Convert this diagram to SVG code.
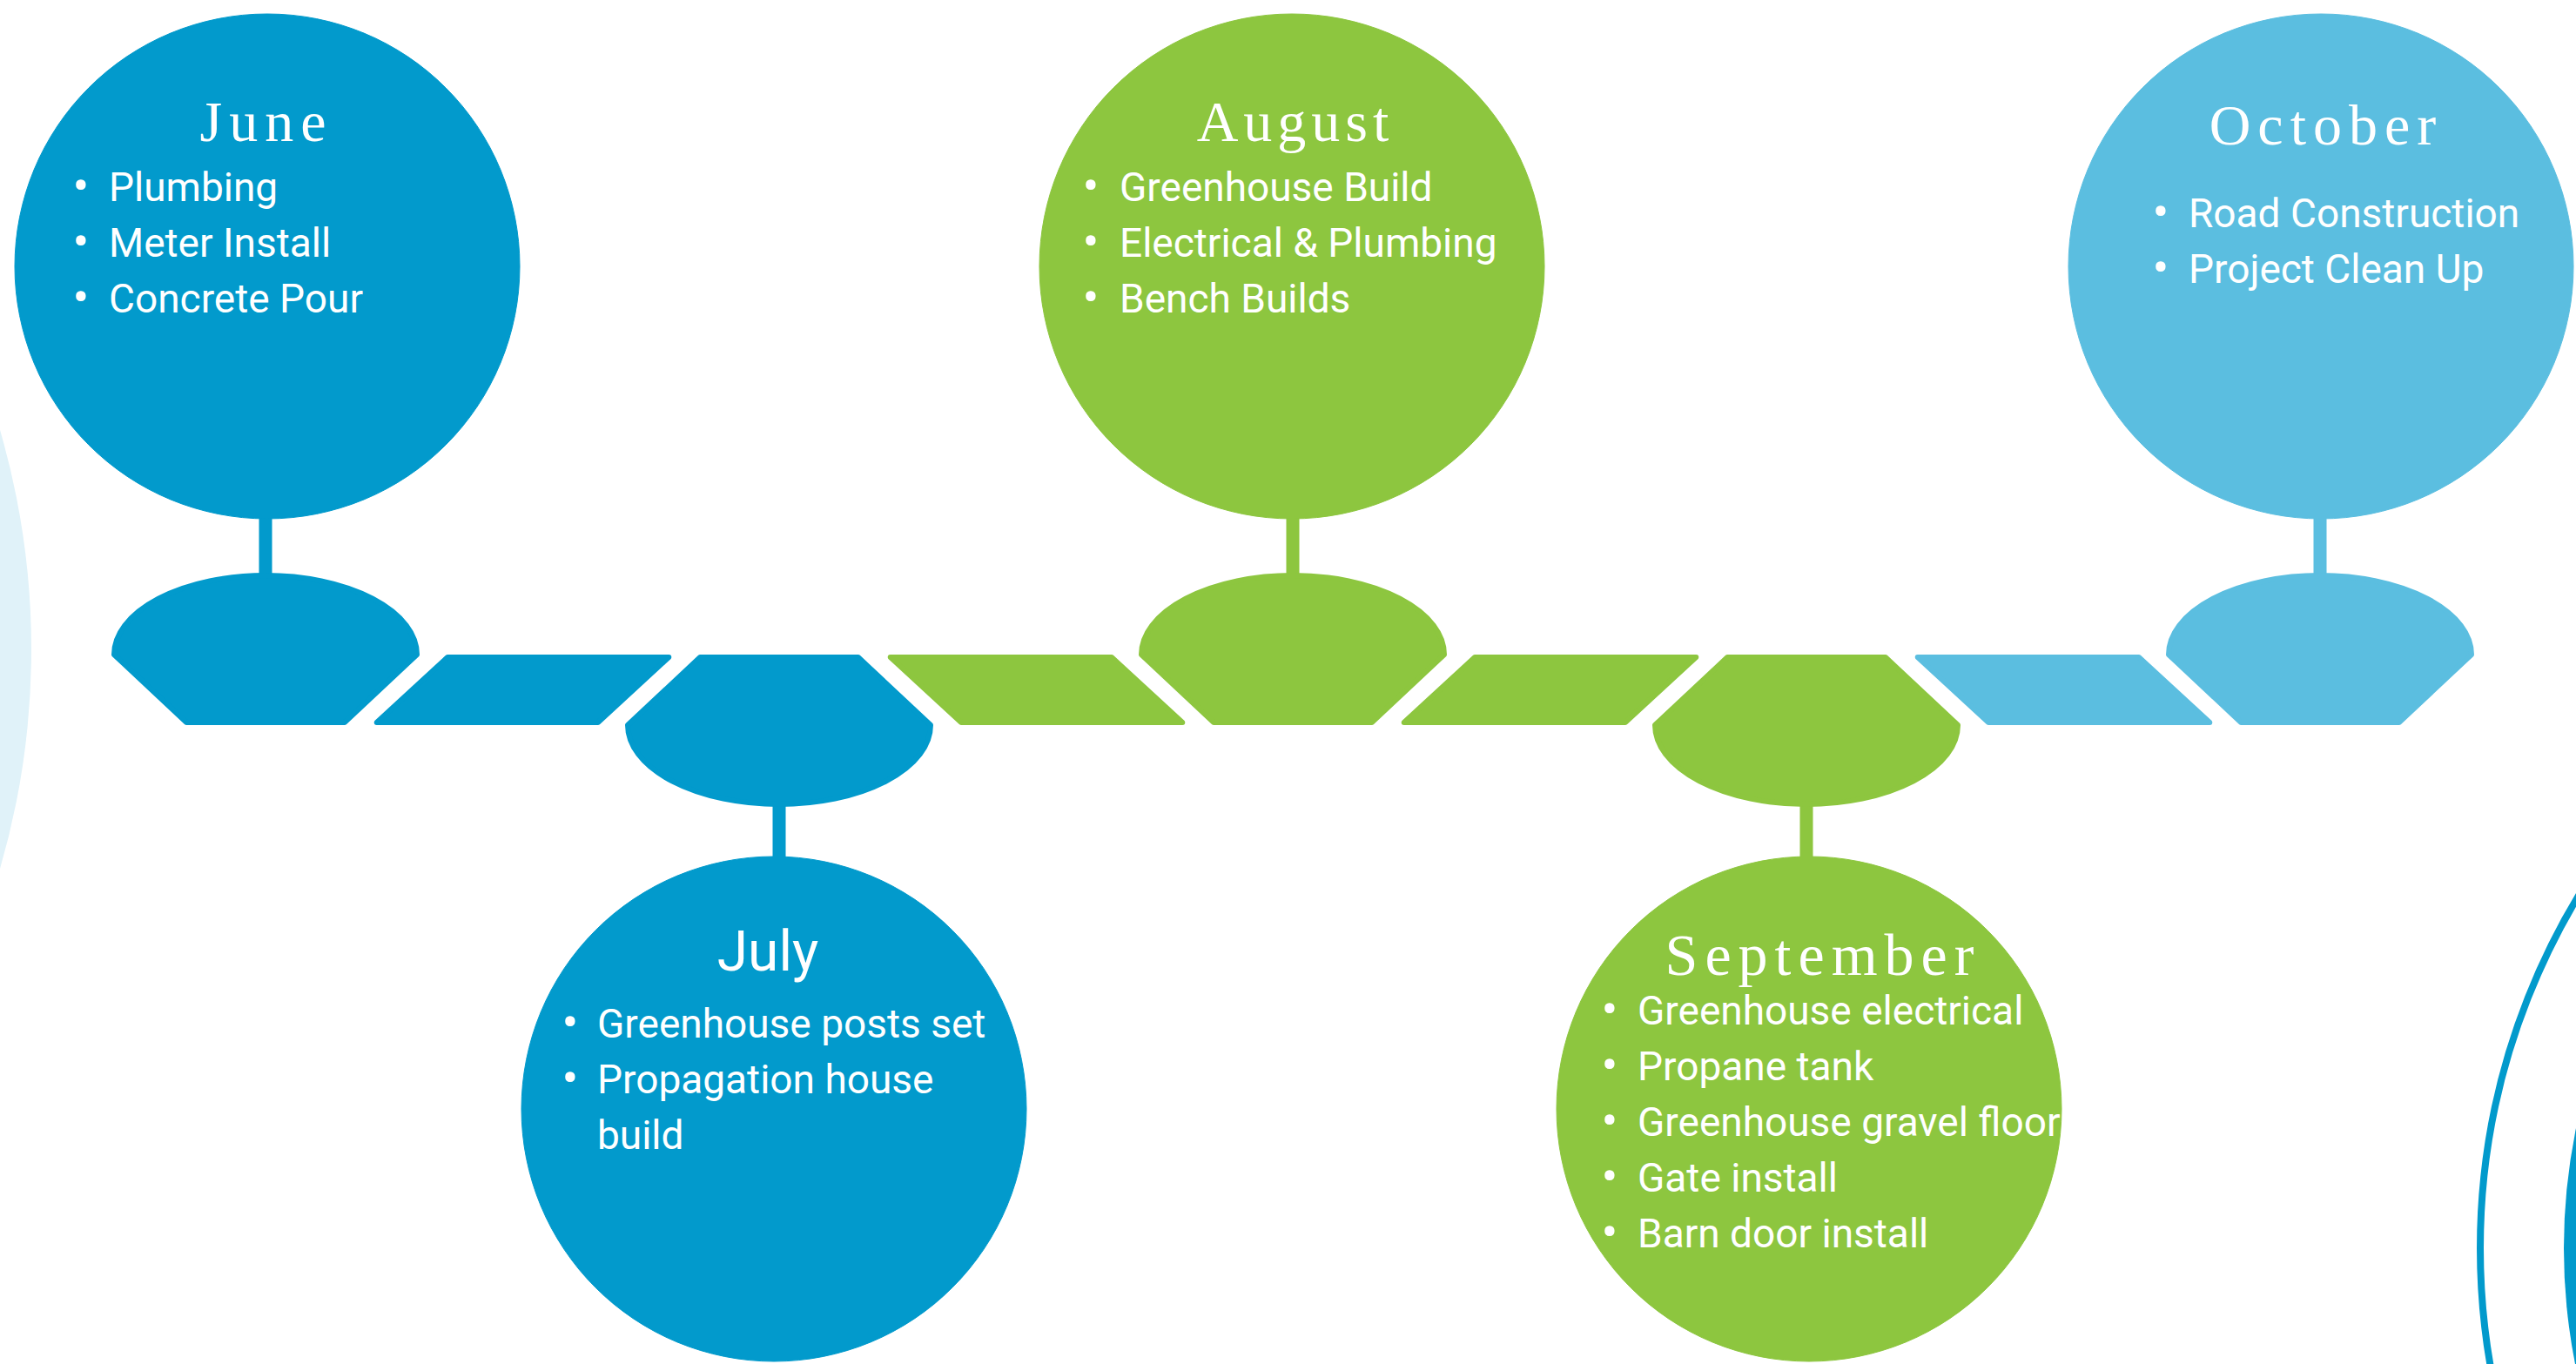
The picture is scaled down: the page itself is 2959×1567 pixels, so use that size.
<svg xmlns="http://www.w3.org/2000/svg" xmlns:xlink="http://www.w3.org/1999/xlink" width="2959" height="1567" viewBox="0 0 2959 1567">
  <style>
    .blue { fill: #029ACC; stroke: #029ACC; }
    .green { fill: #8DC63F; stroke: #8DC63F; }
    .light { fill: #5BBEE0; stroke: #5BBEE0; }
    .shape { stroke-width: 6; stroke-linejoin: round; }
    .title { font-family: "Liberation Serif", "Times New Roman", serif; font-size: 66px; fill: #FFFFFF; text-anchor: middle; letter-spacing: 8px; }
    .title-sans { font-family: Roboto, "Liberation Sans", sans-serif; font-size: 64px; fill: #FFFFFF; text-anchor: middle; }
    .item { font-family: Roboto, "Liberation Sans", sans-serif; font-size: 46px; fill: #FFFFFF; }
    .dot { font-family: Roboto, "Liberation Sans", sans-serif; font-size: 56px; fill: #FFFFFF; text-anchor: middle; }
  </style>
  <defs>
    <path id="bell" d="M -174 -40.5 L -90.8 37.5 L 90.8 37.5 L 174 -40.5 A 174 91 0 0 0 -174 -40.5 Z"/>
    <path id="para" d="M 209.1 -37.5 L 463.3 -37.5 L 381.9 37.5 L 127.7 37.5 Z"/>
  </defs>
  <rect x="0" y="0" width="2959" height="1567" fill="#FFFFFF"/>

  <g id="background">
    <circle cx="-864" cy="746" r="900" fill="#E0F2F9"/>
    <circle cx="3631" cy="1434" r="782" fill="none" stroke="#029ACC" stroke-width="8"/>
    <circle cx="3631" cy="1434" r="686" fill="#029ACC"/>
  </g>

  <g id="connectors">
    <rect class="blue" x="298" y="590" width="14" height="75" stroke="none"/>
    <rect class="blue" x="888" y="920" width="14" height="70" stroke="none"/>
    <rect class="green" x="1478" y="590" width="14" height="75" stroke="none"/>
    <rect class="green" x="2068" y="920" width="14" height="70" stroke="none"/>
    <rect class="light" x="2658" y="590" width="14" height="75" stroke="none"/>
    <use xlink:href="#para" class="blue shape" transform="translate(305,792.5)"/>
    <use xlink:href="#para" class="green shape" transform="translate(895,792.5) scale(1,-1)"/>
    <use xlink:href="#para" class="green shape" transform="translate(1485,792.5)"/>
    <use xlink:href="#para" class="light shape" transform="translate(2075,792.5) scale(1,-1)"/>
  </g>

  <g id="node-june">
    <use xlink:href="#bell" class="blue shape" transform="translate(305,792.5)"/>
    <circle class="blue" cx="307" cy="306" r="290" stroke="none"/>
    <text class="title" x="306" y="162">June</text>
    <text class="dot" x="93" y="233">•</text><text class="item" x="125" y="231">Plumbing</text>
    <text class="dot" x="93" y="297">•</text><text class="item" x="125" y="295">Meter Install</text>
    <text class="dot" x="93" y="361">•</text><text class="item" x="125" y="359">Concrete Pour</text>
  </g>

  <g id="node-july">
    <use xlink:href="#bell" class="blue shape" transform="translate(895,792.5) scale(1,-1)"/>
    <circle class="blue" cx="889" cy="1274" r="290" stroke="none"/>
    <text class="title-sans" x="882" y="1115">July</text>
    <text class="dot" x="655" y="1194">•</text><text class="item" x="686" y="1192">Greenhouse posts set</text>
    <text class="dot" x="655" y="1258">•</text><text class="item" x="686" y="1256">Propagation house</text>
    <text class="item" x="686" y="1320">build</text>
  </g>

  <g id="node-august">
    <use xlink:href="#bell" class="green shape" transform="translate(1485,792.5)"/>
    <circle class="green" cx="1484" cy="306" r="290" stroke="none"/>
    <text class="title" x="1488" y="162" style="letter-spacing:6px">August</text>
    <text class="dot" x="1253" y="233">•</text><text class="item" x="1286" y="231">Greenhouse Build</text>
    <text class="dot" x="1253" y="297">•</text><text class="item" x="1286" y="295">Electrical &amp; Plumbing</text>
    <text class="dot" x="1253" y="361">•</text><text class="item" x="1286" y="359">Bench Builds</text>
  </g>

  <g id="node-september">
    <use xlink:href="#bell" class="green shape" transform="translate(2075,792.5) scale(1,-1)"/>
    <circle class="green" cx="2078" cy="1274" r="290" stroke="none"/>
    <text class="title" x="2094" y="1120" style="font-size:68px">September</text>
    <text class="dot" x="1849" y="1179">•</text><text class="item" x="1881" y="1177">Greenhouse electrical</text>
    <text class="dot" x="1849" y="1243">•</text><text class="item" x="1881" y="1241">Propane tank</text>
    <text class="dot" x="1849" y="1307">•</text><text class="item" x="1881" y="1305">Greenhouse gravel floor</text>
    <text class="dot" x="1849" y="1371">•</text><text class="item" x="1881" y="1369">Gate install</text>
    <text class="dot" x="1849" y="1435">•</text><text class="item" x="1881" y="1433">Barn door install</text>
  </g>

  <g id="node-october">
    <use xlink:href="#bell" class="light shape" transform="translate(2665,792.5)"/>
    <circle class="light" cx="2666" cy="306" r="290" stroke="none"/>
    <text class="title" x="2672" y="166">October</text>
    <text class="dot" x="2482" y="263">•</text><text class="item" x="2514" y="261">Road Construction</text>
    <text class="dot" x="2482" y="327">•</text><text class="item" x="2514" y="325">Project Clean Up</text>
  </g>
</svg>
